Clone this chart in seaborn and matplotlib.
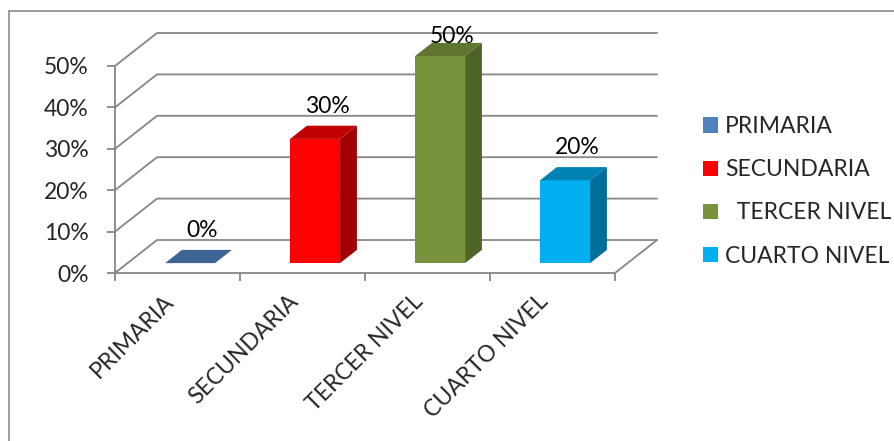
import matplotlib
matplotlib.use("Agg")
import matplotlib.pyplot as plt
import matplotlib.transforms as mtransforms
from matplotlib.patches import Polygon, Patch
from matplotlib.lines import Line2D
import pandas as pd
import seaborn as sns

# datos del gráfico
categorias = ["PRIMARIA", "SECUNDARIA", "TERCER NIVEL", "CUARTO NIVEL"]
etiquetas_leyenda = ["PRIMARIA", "SECUNDARIA", "  TERCER NIVEL", "CUARTO NIVEL"]
valores = [0, 30, 50, 20]
y_ticks = [0, 10, 20, 30, 40, 50]

# colores (frente, arriba, lado) estilo Excel 3D
col_frente = ["#4F81BD", "#FF0000", "#77933C", "#00B0F0"]
col_arriba = ["#3E6496", "#C00000", "#5F7530", "#0082B4"]
col_lado = ["#2F4B70", "#A00000", "#4F6228", "#006E9A"]
col_leyenda = ["#4F81BD", "#FF0000", "#77933C", "#00B0F0"]

sns.set_style("white")
plt.rcParams["font.family"] = ["Lato", "DejaVu Sans"]
FS = 16.5
GRIS = "#868686"

# profundidad del piso 3D (en unidades de datos)
DX, DY = 0.336, 7.97
Z0, ZD = 0.3, 0.4  # posición y grosor de las barras en profundidad

df = pd.DataFrame({"nivel": categorias, "pct": valores})

fig = plt.figure(figsize=(8.94, 4.41), dpi=100)
ax = fig.add_axes([115 / 894, 168 / 441, 542 / 894, 240 / 441])

sns.barplot(data=df, x="nivel", y="pct", hue="nivel", palette=col_frente,
            width=0.4, saturation=1, legend=False, ax=ax, zorder=3)
ax.set_xlim(-0.5, 3.5 + DX)
ax.set_ylim(0, 50 + DY)

# paredes y cuadrícula
for v in y_ticks:
    ax.plot([-0.5, -0.5 + DX, 3.5 + DX], [v, v + DY, v + DY], color=GRIS, lw=1.3, zorder=1, clip_on=False)
ax.plot([-0.5, -0.5], [0, 50], color=GRIS, lw=1.3, zorder=1, clip_on=False)
ax.plot([-0.5, 3.5, 3.5 + DX], [0, 0, DY], color=GRIS, lw=1.3, zorder=1, clip_on=False)

desplaza = mtransforms.Affine2D().translate(Z0 * DX, Z0 * DY) + ax.transData
for p in list(ax.patches):
    p.set_transform(desplaza)
    p.set_linewidth(0)
    x0, w, h = p.get_x(), p.get_width(), p.get_height()
    x1 = x0 + w
    k = int(round(x0 + w / 2))
    arriba = Polygon([(x0, h), (x1, h), (x1 + ZD * DX, h + ZD * DY), (x0 + ZD * DX, h + ZD * DY)],
                     closed=True, fc=col_arriba[k], ec="none", transform=desplaza, zorder=3)
    lado = Polygon([(x1, 0), (x1, h), (x1 + ZD * DX, h + ZD * DY), (x1 + ZD * DX, ZD * DY)],
                   closed=True, fc=col_lado[k], ec="none", transform=desplaza, zorder=3)
    ax.add_patch(arriba)
    ax.add_patch(lado)

# etiquetas de datos
for i, v in enumerate(valores):
    y = min(v + 0.7 * DY + 3.1, 50 + 0.7 * DY)
    ax.text(i + 0.2, y, f"{v}%", ha="center", va="baseline", fontsize=FS, color="black", zorder=5)

# ejes
for s in ax.spines.values():
    s.set_visible(False)
ax.set_yticks(y_ticks)
ax.set_yticklabels([f"{v}%" for v in y_ticks], fontsize=FS)
ax.tick_params(axis="y", length=6, width=1.3, color=GRIS, pad=13, left=True)
ax.set_xticks(range(len(categorias)))
ax.set_xticklabels(categorias, rotation=45, ha="right", fontsize=FS)
ax.tick_params(axis="x", which="major", length=0, pad=13)
ax.set_xticks([i - 0.5 for i in range(len(categorias) + 1)], minor=True)
ax.tick_params(axis="x", which="minor", length=6, width=1.3, color=GRIS, bottom=True)
ax.set_xlabel("")
ax.set_ylabel("")

# leyenda
manejadores = [Patch(facecolor=c, edgecolor="none") for c in col_leyenda]
fig.legend(manejadores, etiquetas_leyenda, loc="upper left", bbox_to_anchor=(703 / 894, 1 - 116 / 441),
           frameon=False, fontsize=FS, handlelength=0.65, handleheight=0.65,
           handletextpad=0.3, labelspacing=0.97, borderpad=0, borderaxespad=0)

# borde del área del gráfico
fig.add_artist(Line2D([9 / 894, 9 / 894], [0, 1 - 11 / 441], color="#8C8C8C", lw=1.2))
fig.add_artist(Line2D([9 / 894, 1], [1 - 11 / 441, 1 - 11 / 441], color="#8C8C8C", lw=1.2))

fig.savefig("out.png", dpi=100)
